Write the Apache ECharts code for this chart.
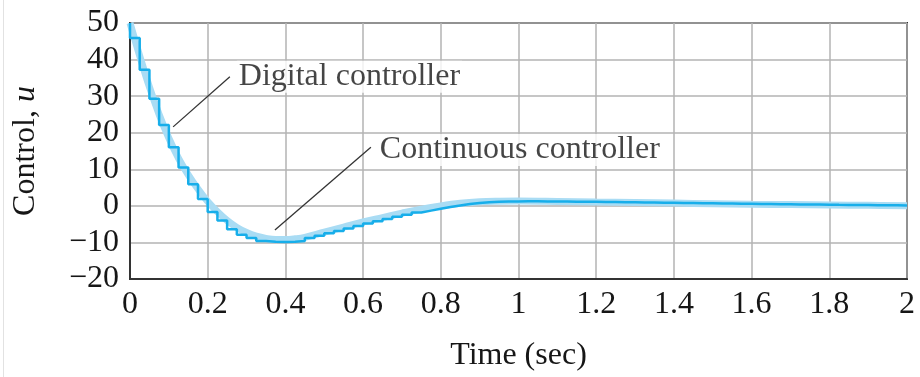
<!DOCTYPE html>
<html>
<head>
<meta charset="utf-8">
<script src="https://cdn.jsdelivr.net/npm/echarts@6/dist/echarts.min.js"></script>
<style>html,body{margin:0;padding:0;background:#fff}#c{width:920px;height:377px}</style>
</head>
<body>
<div id="c"></div>
<script>
// Continuous controller u(t)
const contTime = [0,0.025,0.05,0.075,0.1,0.125,0.15,0.175,0.2,0.225,0.25,0.275,0.3,0.325,0.35,0.375,0.4,0.425,0.45,0.5,0.55,0.6,0.65,0.7,0.75,0.8,0.85,0.9,0.95,1.0,1.1,1.2,1.3,1.4,1.5,1.6,1.7,1.8,1.9,2.0];
const contU = [50,41,32.5,25,18.5,13,8.5,4.6,1.2,-1.6,-4,-5.9,-7.3,-8.3,-8.9,-9.2,-9.2,-9.0,-8.6,-7.2,-5.8,-4.4,-3.2,-2.0,-0.9,0.0,0.7,1.1,1.25,1.3,1.2,1.05,0.9,0.75,0.6,0.45,0.35,0.25,0.15,0.05];
// Digital controller: held values, one per sample period
const samplePeriod = 0.025;
const digitalStart = 50;
const digitalU = [45.9,37.2,29.3,22.1,16.0,10.5,5.9,1.9,-1.7,-4.0,
  -6.4,-7.9,-8.8,-9.6,-9.8,-9.9,-9.8,-9.6,-8.8,-8.2,
  -7.5,-6.9,-6.2,-5.5,-4.8,-4.2,-3.6,-3.0,-2.4,-1.8,
  -1.3,-0.8,-0.3,0.1,0.5,0.8,1.0,1.1,1.2,1.2,
  1.25,1.24,1.22,1.2,1.18,1.15,1.12,1.09,1.06,1.03,
  1.0,0.97,0.93,0.9,0.86,0.83,0.79,0.76,0.72,0.69,
  0.65,0.62,0.58,0.55,0.52,0.49,0.46,0.43,0.4,0.37,
  0.34,0.31,0.28,0.26,0.23,0.21,0.18,0.16,0.14,0.12];
const digitalEnd = 0.1;
// Axis settings
const xTicks = {min:0, max:2, interval:0.2};
const yTicks = {min:-20, max:50, interval:10};
// Annotations [t, u]
const digitalLabel = {text:'Digital controller', at:[0.275,35.3], leader:[[0.111,21.6],[0.257,35.3]]};
const contLabel = {text:'Continuous controller', at:[0.638,15.3], leader:[[0.373,-6.6],[0.62,16.0]]};

const contData = contTime.map((t,i)=>[t,contU[i]]);
const digData = [[0,digitalStart]];
digitalU.forEach((v,k)=>digData.push([k*samplePeriod, v]));
digData.push([2, digitalEnd]);

const font = 'Liberation Serif';
const ink = '#161616';
const chart = echarts.init(document.getElementById('c'));
function annot(a){
  return [{
    type:'line', data:a.leader, symbol:'none', silent:true, z:5,
    lineStyle:{color:'#333', width:1.3}
  },{
    type:'scatter', data:[a.at], symbolSize:0, silent:true, z:6,
    label:{show:true, position:'right', distance:0, formatter:a.text,
      fontFamily:font, fontSize:32, color:ink, backgroundColor:'#fff', padding:[0,2,0,2]}
  }];
}
chart.setOption({
  backgroundColor:'#fff',
  animation:false,
  graphic:[{type:'line', shape:{x1:3.5,y1:0,x2:3.5,y2:377}, style:{stroke:'#e2e2e2', lineWidth:1}, silent:true}],
  grid:{left:130, right:13, top:23, bottom:98, show:true, borderColor:'#333', borderWidth:2, backgroundColor:'transparent'},
  xAxis:{type:'value', min:xTicks.min, max:xTicks.max, interval:xTicks.interval,
    name:'Time (sec)', nameLocation:'middle', nameGap:61,
    nameTextStyle:{fontFamily:font, fontSize:32, color:ink},
    axisLine:{show:true, onZero:false, lineStyle:{color:'#333', width:2}}, axisTick:{show:false},
    axisLabel:{fontFamily:font, fontSize:32, color:ink, margin:10},
    splitLine:{show:true, lineStyle:{color:'#b3b3b3', width:1.5}}},
  yAxis:{type:'value', min:yTicks.min, max:yTicks.max, interval:yTicks.interval,
    name:'{a|Control, }{b|u}', nameLocation:'middle', nameGap:88, nameRotate:90,
    nameTextStyle:{rich:{a:{fontFamily:font, fontSize:32, color:ink}, b:{fontFamily:font, fontSize:32, fontStyle:'italic', color:ink}}},
    axisLine:{show:true, onZero:false, lineStyle:{color:'#333', width:2}}, axisTick:{show:false},
    axisLabel:{fontFamily:font, fontSize:32, color:ink, margin:11, formatter:v=>String(v).replace('-','\u2212')},
    splitLine:{show:true, lineStyle:{color:'#b3b3b3', width:1.5}}},
  series:[
    {type:'line', name:'Continuous', data:contData, smooth:0.4, symbol:'none', z:2,
      lineStyle:{color:'#a9dcf4', width:7}},
    {type:'line', name:'Digital', data:digData, step:'end', symbol:'none', z:3,
      lineStyle:{color:'#17aeea', width:2.5}},
    ...annot(digitalLabel), ...annot(contLabel)
  ]
});
</script>
</body>
</html>
